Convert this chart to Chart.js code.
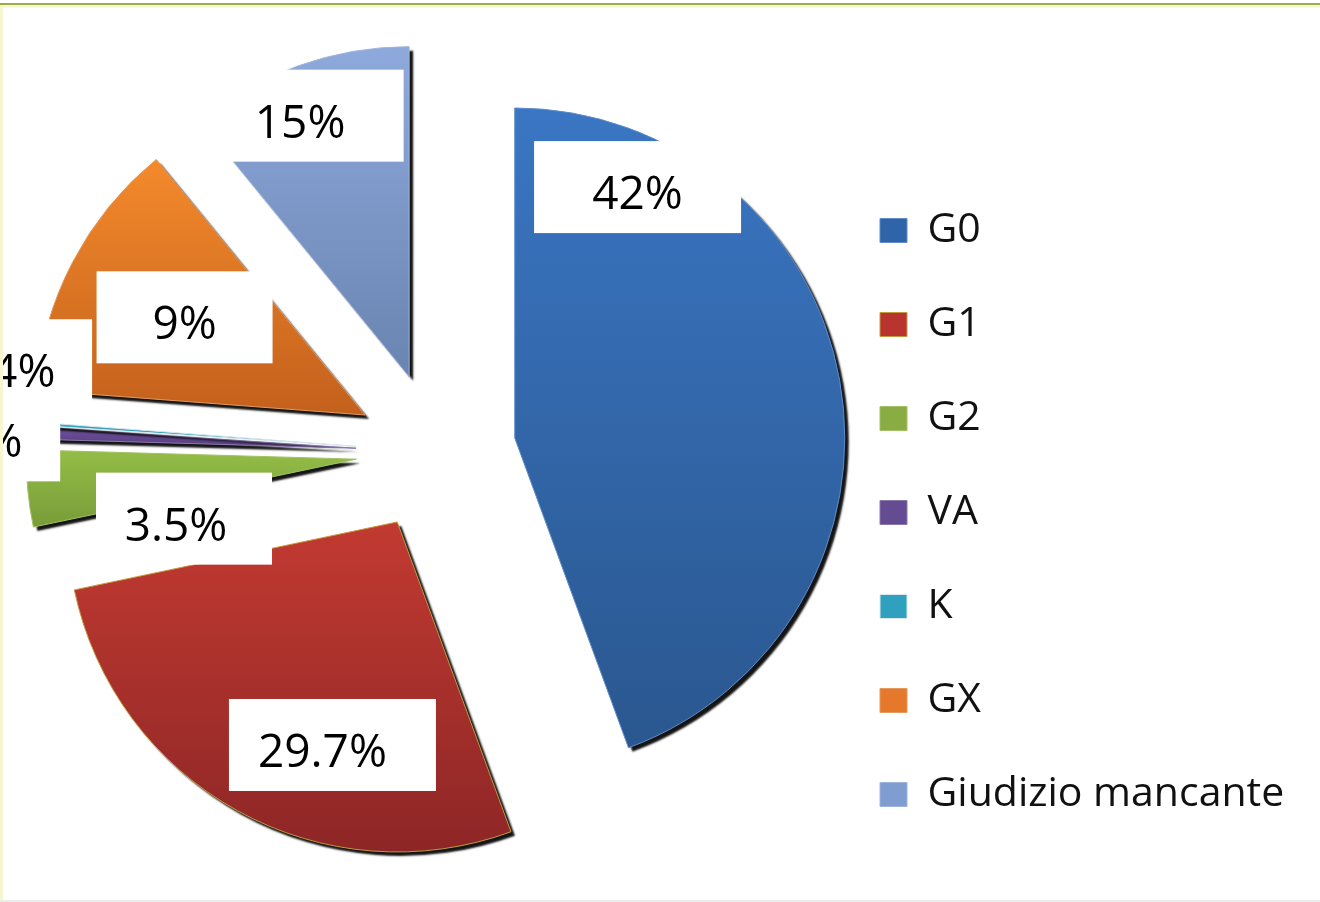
<!DOCTYPE html>
<html><head><meta charset="utf-8">
<script src="https://cdn.jsdelivr.net/npm/chart.js@4.4.1/dist/chart.umd.min.js"></script>
<style>html,body{margin:0;padding:0;background:#fff;overflow:hidden}#wrap{width:1320px;height:902px}</style>
</head><body><div id="wrap"><canvas id="c" width="1320" height="902"></canvas></div>
<script>
// ---- data ----
const categories = ['G0', 'G1', 'G2', 'VA', 'K', 'GX', 'Giudizio mancante'];
const shares = [44.4, 27.3, 3.75, 0.6, 0.15, 12.9, 10.9];
const labelTexts = ['42%', '29.7%', '3.5%', '0.4%', '0.4%', '9%', '15%'];

// ---- styles ----
const baseColors  = ['#2f65a8', '#b9332f', '#89ad43', '#654b91', '#2fa0bd', '#e5782a', '#7f9dd1'];
const lightColors = ['#3a76c3', '#c23a31', '#93bd47', '#6f529c', '#36abc8', '#f48a2c', '#8eaadd'];
const darkColors  = ['#2a578f', '#8d2626', '#789c38', '#553c7f', '#298aa3', '#c3601c', '#6a84b0'];
const borderColors = ['#5f8cc8', '#c49a3e', '#a3c066', '#8a78ad', '#d8e8ee', '#e39a5c', '#9fb4da'];
const EXPLODE = 80; // px each slice is pulled out of the pie
// label box placement relative to each slice's apex (px) and box widths
const labelShift = [[122.8, -250.9], [-64.8, 223], [-172.3, 59.5], [-352, -83], [-385, -11], [-180.5, -97.7], [-109, -261]];
const labelBoxW = [207, 207, 176, 176, 178, 176, 207];
const labelTextDx = [0, -10, -8, 0, 0, 0, 0];

const LEGEND_FONT = { family: '"Open Sans"', size: 41 };
const LEGEND_PAD = 53, LEGEND_BOX_W = 27, LEGEND_LEFT = 827;
const mctx = document.createElement('canvas').getContext('2d');
mctx.font = LEGEND_FONT.size + 'px ' + LEGEND_FONT.family;
const maxTextW = Math.max(...categories.map(t => mctx.measureText(t).width));
const legendW = LEGEND_PAD + LEGEND_BOX_W + LEGEND_FONT.size / 2 + maxTextW + 10;
const padRight = Math.max(0, 1320 - LEGEND_LEFT - legendW);

const pieStyle = {
  id: 'pieStyle',
  beforeDraw(chart) {
    const c = chart.ctx;
    c.save();
    c.fillStyle = '#ffffff';
    c.fillRect(0, 0, chart.width, chart.height);
    c.restore();
  },
  beforeDatasetsDraw(chart) {
    const meta = chart.getDatasetMeta(0);
    const c = chart.ctx;
    meta.data.forEach((el, i) => {
      if (el.$bx === undefined) { el.$bx = el.x; el.$by = el.y; }
      const mid = (el.startAngle + el.endAngle) / 2;
      el.x = el.$bx + Math.cos(mid) * EXPLODE;
      el.y = el.$by + Math.sin(mid) * EXPLODE;
      const R = el.outerRadius;
      let ymin = el.y, ymax = el.y;
      for (let k = 0; k <= 60; k++) {
        const a = el.startAngle + (el.endAngle - el.startAngle) * k / 60;
        const yy = el.y + Math.sin(a) * R;
        ymin = Math.min(ymin, yy); ymax = Math.max(ymax, yy);
      }
      const g = c.createLinearGradient(0, ymin, 0, ymax + 1);
      g.addColorStop(0, lightColors[i]);
      g.addColorStop(1, darkColors[i]);
      el.options = Object.assign({}, el.options, { backgroundColor: g });
    });
  },
  beforeDatasetDraw(chart) {
    const c = chart.ctx;
    c.save();
    c.shadowColor = 'rgba(0,0,0,0.92)';
    c.shadowOffsetX = 4;
    c.shadowOffsetY = 4;
    c.shadowBlur = 2;
    const origStroke = CanvasRenderingContext2D.prototype.stroke;
    c.stroke = function () {
      const s = this.shadowColor;
      this.shadowColor = 'rgba(0,0,0,0)';
      origStroke.apply(this, arguments);
      this.shadowColor = s;
    };
  },
  afterDatasetDraw(chart) {
    const c = chart.ctx;
    delete c.stroke;
    c.restore();
  },
  afterDatasetsDraw(chart) {
    const meta = chart.getDatasetMeta(0);
    const c = chart.ctx;
    c.save();
    meta.data.forEach((el, i) => {
      const cx = el.x + labelShift[i][0];
      const cy = el.y + labelShift[i][1];
      const w = labelBoxW[i], h = 92;
      c.fillStyle = '#ffffff';
      c.fillRect(cx - w / 2, cy - h / 2, w, h);
      c.fillStyle = '#000000';
      c.font = '46px "Open Sans"';
      c.textAlign = 'center';
      c.textBaseline = 'middle';
      c.fillText(labelTexts[i], cx + labelTextDx[i], cy + 9);
    });
    c.restore();
  },
  afterDraw(chart) {
    const c = chart.ctx;
    c.save();
    c.strokeStyle = '#9aae48';
    c.lineWidth = 2;
    c.beginPath(); c.moveTo(0, 4); c.lineTo(chart.width, 4); c.stroke();
    c.strokeStyle = '#f3f7c6';
    c.lineWidth = 2;
    c.beginPath(); c.moveTo(0, 6.5); c.lineTo(chart.width, 6.5); c.stroke();
    c.strokeStyle = '#f6f7cf';
    c.lineWidth = 3;
    c.beginPath(); c.moveTo(1.5, 5); c.lineTo(1.5, chart.height); c.stroke();
    c.strokeStyle = '#ececec';
    c.lineWidth = 2;
    c.beginPath(); c.moveTo(0, chart.height - 1); c.lineTo(chart.width, chart.height - 1); c.stroke();
    c.restore();
  }
};

new Chart(document.getElementById('c'), {
  type: 'pie',
  data: {
    labels: categories,
    datasets: [{
      data: shares,
      backgroundColor: baseColors,
      borderColor: borderColors,
      borderWidth: 1,
      offset: 0,
      hoverOffset: 0,
      clip: false
    }]
  },
  options: {
    responsive: false,
    animation: false,
    events: [],
    radius: 330,
    layout: { padding: { left: 45, right: padRight, top: 36, bottom: 34 } },
    plugins: {
      tooltip: { enabled: false },
      legend: {
        position: 'right',
        align: 'end',
        labels: {
          boxWidth: LEGEND_BOX_W,
          boxHeight: 24,
          padding: LEGEND_PAD,
          color: '#111111',
          font: LEGEND_FONT
        }
      }
    }
  },
  plugins: [pieStyle]
});
</script>
</body></html>
